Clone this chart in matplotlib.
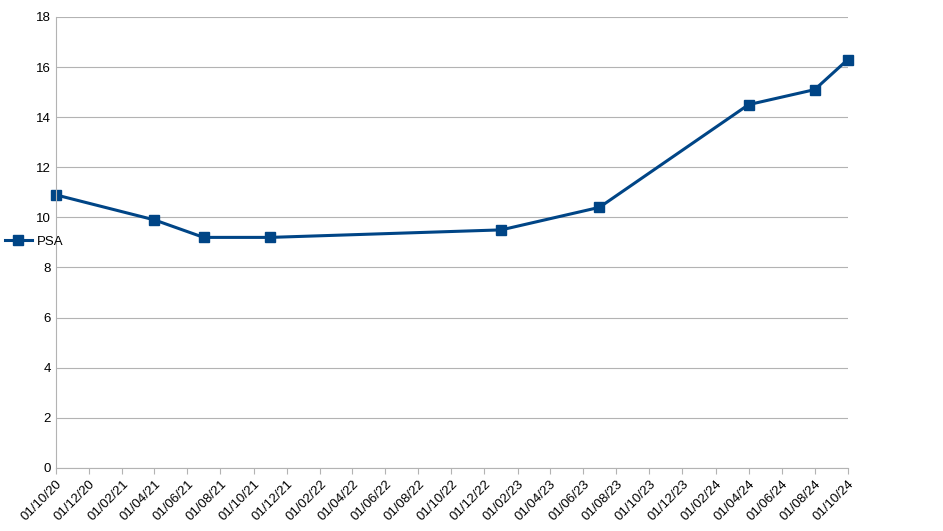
import datetime as dt
import matplotlib
matplotlib.use("Agg")
import matplotlib.pyplot as plt
import matplotlib.dates as mdates

plt.rcParams["font.family"] = ["Liberation Sans", "DejaVu Sans"]

dates = ["2020-10-01", "2021-04-01", "2021-07-01", "2021-11-01", "2023-01-01",
         "2023-07-01", "2024-04-01", "2024-08-01", "2024-10-01"]
psa = [10.9, 9.9, 9.2, 9.2, 9.5, 10.4, 14.5, 15.1, 16.3]

x = [dt.datetime.strptime(d, "%Y-%m-%d") for d in dates]

fig = plt.figure(figsize=(9.43, 5.31), dpi=100)
ax = fig.add_axes([0.059, 0.119, 0.84, 0.849])
line, = ax.plot(x, psa, color="#004586", lw=2.2, marker="s", ms=7, label="PSA",
                clip_on=False)

ax.set_xlim(dt.datetime(2020, 10, 1), dt.datetime(2024, 10, 1))
ax.set_ylim(0, 18)
ax.set_yticks(range(0, 19, 2))
ax.xaxis.set_major_locator(mdates.MonthLocator(bymonth=[2, 4, 6, 8, 10, 12], bymonthday=1))
ax.xaxis.set_major_formatter(mdates.DateFormatter("%d/%m/%y"))
for lbl in ax.get_xticklabels():
    lbl.set_rotation(45)
    lbl.set_ha("right")
    lbl.set_rotation_mode("anchor")
ax.tick_params(labelsize=9.5, length=4, color="#b3b3b3")
ax.tick_params(axis="y", length=0)
ax.grid(axis="y", color="#b3b3b3", lw=0.8)
for s in ["top", "right"]:
    ax.spines[s].set_visible(False)
for s in ["left", "bottom"]:
    ax.spines[s].set_color("#b3b3b3")
ax.set_axisbelow(True)

fig.legend(handles=[line], loc="center left", bbox_to_anchor=(0.0, 0.545),
           frameon=False, fontsize=9.5, handlelength=2, borderaxespad=0, handletextpad=0.4)

fig.savefig("out.png", dpi=100)
